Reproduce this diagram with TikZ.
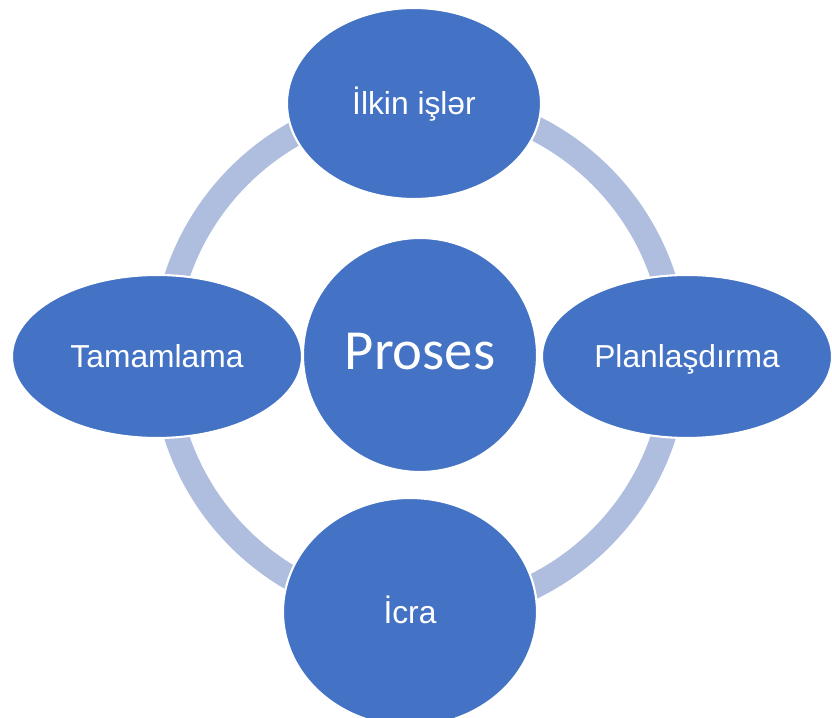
\documentclass[tikz,border=0pt]{standalone}
\usepackage{fontspec}
\usepackage{xcolor}
\usepackage{tikz}
\usetikzlibrary{shapes.geometric}
\setmainfont{Liberation Sans}
\newfontfamily\calibri{Carlito}
\definecolor{stageblue}{HTML}{4472C4}
\definecolor{ringblue}{HTML}{AFBDDF}

\begin{document}
\begin{tikzpicture}[
		stage/.style={ellipse, fill=stageblue, draw=white, line width=1.5pt, inner sep=0pt,
			text=white, font=\fontsize{22.6}{26}\selectfont, text height=16.2pt, text depth=0pt},
		core/.style={circle, fill=stageblue, draw=white, line width=1.5pt, inner sep=0pt,
			text=white, font=\calibri\fontsize{40.3}{46}\selectfont, text height=26pt, text depth=5pt}]
				\useasboundingbox (0,0) rectangle (20.8,17.95);
	
				\draw[ringblue, line width=0.62cm] (10.5,9.025) circle (6.4cm);
	
				\node[core, minimum size=5.85cm] (proses) at (10.5,9.075) {Proses};
	
				\node[stage, minimum width=6.35cm, minimum height=4.775cm] (ilkin) at (10.35,15.3625) {İlkin işlər};
				\node[stage, minimum width=7.25cm, minimum height=4.075cm] (plan) at (17.175,9.0375) {Planlaşdırma};
				\node[stage, minimum width=6.35cm, minimum height=5.7cm] (icra) at (10.25,2.65) {İcra};
				\node[stage, minimum width=7.25cm, minimum height=4.075cm] (tamam) at (3.925,9.0375) {Tamamlama};
			\end{tikzpicture}
\end{document}
